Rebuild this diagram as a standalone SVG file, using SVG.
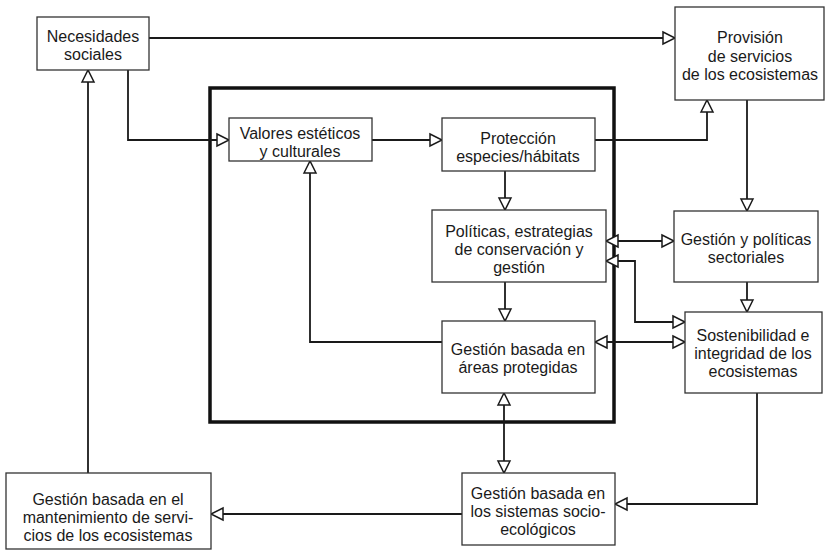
<svg xmlns="http://www.w3.org/2000/svg" width="826" height="553" viewBox="0 0 826 553">
<style>
.box{fill:#fff;stroke:#333;stroke-width:1.3}
.frame{fill:none;stroke:#111;stroke-width:3.5}
.t{font-family:"Liberation Sans",Arial,sans-serif;font-size:16px;fill:#1a1a1a;text-anchor:middle}
.c{fill:none;stroke:#1a1a1a;stroke-width:1.8}
.a{marker-end:url(#ah)}
.b{marker-start:url(#ah);marker-end:url(#ah)}
</style>
<defs>
<marker id="ah" markerUnits="userSpaceOnUse" markerWidth="16" markerHeight="16" viewBox="-2 -2 16 16" refX="12" refY="6" orient="auto-start-reverse" overflow="visible">
<path d="M0,0 L12,6 L0,12 Z" fill="#fff" stroke="#1a1a1a" stroke-width="1.5" stroke-linejoin="miter"/>
</marker>
</defs>
<rect width="826" height="553" fill="#fff"/>
<rect class="frame" x="210" y="88" width="404" height="334"/>
<g id="connectors">
<path class="c a" d="M149,38 H675"/>
<path class="c a" d="M128,70 V140 H229"/>
<path class="c a" d="M372,140 H442"/>
<path class="c a" d="M595,140 H707 V100"/>
<path class="c a" d="M505,171 V210"/>
<path class="c a" d="M747,100 V211"/>
<path class="c b" d="M606,241 H674"/>
<path class="c b" d="M606,261 H635 V322 H685"/>
<path class="c a" d="M505,282 V321"/>
<path class="c b" d="M595,342 H685"/>
<path class="c a" d="M747,282 V312"/>
<path class="c a" d="M442,342 H310 V161"/>
<path class="c b" d="M504,393 V473"/>
<path class="c a" d="M757,393 V504 H615"/>
<path class="c a" d="M462,514 H211"/>
<path class="c a" d="M88,473 V70"/>
</g>
<g id="necesidades">
<rect class="box" x="37" y="17" width="112" height="53"/>
<text class="t" x="93" y="42">Necesidades</text>
<text class="t" x="93" y="60">sociales</text>
</g>
<g id="provision">
<rect class="box" x="675" y="7" width="149" height="93"/>
<text class="t" x="750" y="43">Provisión</text>
<text class="t" x="750" y="62">de servicios</text>
<text class="t" x="750" y="80">de los ecosistemas</text>
</g>
<g id="valores">
<rect class="box" x="229" y="118" width="143" height="43"/>
<text class="t" x="300" y="139">Valores estéticos</text>
<text class="t" x="300" y="157">y culturales</text>
</g>
<g id="proteccion">
<rect class="box" x="442" y="118" width="153" height="53"/>
<text class="t" x="518" y="144">Protección</text>
<text class="t" x="518" y="162">especies/hábitats</text>
</g>
<g id="politicas">
<rect class="box" x="432" y="210" width="174" height="72"/>
<text class="t" x="519" y="237">Políticas, estrategias</text>
<text class="t" x="519" y="255">de conservación y</text>
<text class="t" x="519" y="273">gestión</text>
</g>
<g id="gestion-sectoriales">
<rect class="box" x="674" y="211" width="144" height="71"/>
<text class="t" x="746" y="245">Gestión y políticas</text>
<text class="t" x="746" y="263">sectoriales</text>
</g>
<g id="gestion-areas">
<rect class="box" x="442" y="321" width="153" height="72"/>
<text class="t" x="518" y="355">Gestión basada en</text>
<text class="t" x="518" y="373">áreas protegidas</text>
</g>
<g id="sostenibilidad">
<rect class="box" x="685" y="312" width="137" height="81"/>
<text class="t" x="753" y="341">Sostenibilidad e</text>
<text class="t" x="753" y="359">integridad de los</text>
<text class="t" x="753" y="377">ecosistemas</text>
</g>
<g id="gestion-mantenimiento">
<rect class="box" x="6" y="473" width="205" height="76"/>
<text class="t" x="108" y="505">Gestión basada en el</text>
<text class="t" x="108" y="523">mantenimiento de servi-</text>
<text class="t" x="108" y="541">cios de los ecosistemas</text>
</g>
<g id="gestion-socioecologicos">
<rect class="box" x="462" y="473" width="153" height="72"/>
<text class="t" x="538" y="499">Gestión basada en</text>
<text class="t" x="538" y="517">los sistemas socio-</text>
<text class="t" x="538" y="535">ecológicos</text>
</g>
</svg>
